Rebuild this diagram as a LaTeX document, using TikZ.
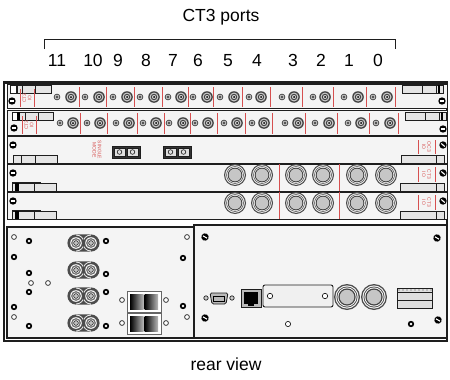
\documentclass[tikz,border=0pt]{standalone}
\usepackage{fontspec}
\setmainfont{Liberation Sans}
\definecolor{redl}{RGB}{214,80,80}
\definecolor{panel}{RGB}{244,244,244}
\definecolor{edge}{RGB}{30,30,30}
\tikzset{
  cardbox/.style={draw=edge, line width=1pt, fill=panel},
  redline/.style={draw=redl, line width=0.8pt},
  ejector/.style={draw=edge, line width=0.8pt, fill=black!10},
  redtext/.style={text=redl, font=\fontsize{5}{5.2}\selectfont, align=center, inner sep=0pt},
  bigtext/.style={font=\fontsize{17.5}{19}\selectfont, inner sep=0pt},
  openhole/.style={draw=edge, line width=0.7pt, fill=white},
  screw/.pic={\fill[black] (0,0) circle (3.7); \draw[white, line width=1.1pt] (-2.3,0) -- (2.3,0);},
  ringhole/.pic={\fill[black] (0,0) circle (3.2); \fill[white] (0,0) circle (1.3);},
  smallport/.pic={\fill[black!75] (0,0) circle (3.3); \fill[gray!55] (0,0) circle (2.4); \fill[black!80] (0,0) circle (1.2);},
  bigport/.pic={\fill[black!75] (0,0) circle (5.8); \fill[gray!45] (0,0) circle (4.5); \fill[black!75] (0,0) circle (3.2); \fill[gray!45] (0,0) circle (2.1); \fill[black] (0,0) circle (1);},
  bnc/.pic={\fill[black!70] (0,0) circle (11); \fill[panel] (0,0) circle (9.8); \fill[black!70] (0,0) circle (8.8); \fill[panel] (0,0) circle (8.1); \fill[black!75] (0,0) circle (7.3); \fill[gray!45] (0,0) circle (6.3);},
  bigbnc/.pic={\fill[black!70] (0,0) circle (13); \fill[panel] (0,0) circle (11.6); \fill[black!70] (0,0) circle (10.5); \fill[panel] (0,0) circle (9.6); \fill[black!75] (0,0) circle (8.6); \fill[gray!45] (0,0) circle (7.3);},
  psuport/.pic={\fill[black!70] (0,0) circle (7.5); \fill[white] (0,0) circle (5.8); \fill[black!55] (0,0) circle (4.9); \fill[white] (0,0) circle (3.4); \fill[gray!50] (0,0) circle (2.4); \draw[black, line width=0.5pt] (0,0) circle (2.4);},
}
\begin{document}
\begin{tikzpicture}[x=1pt,y=-1pt]
\useasboundingbox (0,0) rectangle (450,380);
\fill[white] (0,0) rectangle (450,380);

% title and bracket
\node[bigtext] (title) at (221,17) {CT3 ports};
\coordinate (bl) at (44,49);
\coordinate (br) at (395,49);
\draw[edge, line width=0.9pt] (bl) -- (44,39) -- (395,39) -- (br);
\foreach \n/\x in {11/57,10/93,9/118,8/146,7/173,6/198,5/228,4/257,3/293,2/321,1/349,0/378}
  \node[bigtext, anchor=base] (num\n) at (\x,66) {\n};

% chassis
\draw[cardbox, fill=white, line width=1.2pt] (4,82) rectangle (447,341);
\draw[edge, line width=2pt] (4,82.5) -- (447,82.5);

% card 1
\draw[cardbox] (7,84) rectangle (447,108);
\draw[ejector] (10,85) rectangle (51,93);
\fill[white] (10.5,85.5) rectangle (17,92.5);
\draw[edge, line width=1.1pt] (17,85) -- (17,93);
\draw[edge, line width=0.5pt] (22,85) -- (22,93) (35,85) -- (35,93);
\draw[redline] (20,89) -- (20,107) (34,89) -- (34,107);
\node[redtext, rotate=90] (c1t) at (27,98) {CT3\\IO};
\pic at (12,101) {screw};
\draw[ejector] (402,85) rectangle (443,93);
\draw[edge, line width=0.5pt] (422,85) -- (422,93) (436,85) -- (436,93);
\fill[black] (438,85) rectangle (440,93);
\pic at (442,101) {screw};
\foreach \s/\b/\r in {57/71/79,85/99/106,113/127/134,140/154/162,168/181/188,193/207/213,220/234/242,249/261/270,282/294/302,313/325/333,344/358/366,373/387/395}{
  \pic at (\s,97) {smallport};
  \pic at (\b,97) {bigport};
  \draw[redline] (\r,87) -- (\r,107);
}

% card 2
\draw[cardbox] (7,110) rectangle (447,135);
\draw[ejector] (12,112) rectangle (53,120);
\fill[white] (12.5,112.5) rectangle (17,119.5);
\fill[black] (17,112) rectangle (19.5,120);
\draw[edge, line width=0.5pt] (25,112) -- (25,120) (38,112) -- (38,120);
\draw[redline] (22,116) -- (22,134) (36,116) -- (36,134);
\node[redtext, rotate=90] (c2t) at (29,125) {CT3\\IO};
\pic at (14,128) {screw};
\draw[ejector] (405,112) rectangle (446,120);
\draw[edge, line width=0.5pt] (425,112) -- (425,120) (439,112) -- (439,120);
\fill[black] (441,112) rectangle (443,120);
\pic at (443,129) {screw};
\foreach \s/\b/\r in {60/73/80,87/100/107,116/129/137,143/156/164,169/183/190,195/208/217,224/237/245,252/264/272,285/298/305,315/329/337,348/361/369,376/390/398}{
  \pic at (\s,123) {smallport};
  \pic at (\b,123) {bigport};
  \draw[redline] (\r,113) -- (\r,134);
}

% card 3 (OC3)
\draw[cardbox] (7,136) rectangle (447,163);
\pic at (13,145) {screw};
\draw[ejector] (13,155) rectangle (57,163);
\draw[edge, line width=0.5pt] (21,155) -- (21,163) (35,155) -- (35,163);
\node[redtext, rotate=-90] (sm) at (97,150) {SINGLE\\MODE};
\foreach \x/\nm in {112/fa,163/fb}{
  \draw[edge, fill=black!80, line width=0.6pt] (\x,146) rectangle ++(28,12);
  \draw[edge, fill=gray!25, line width=0.5pt] (\x+2,148) rectangle ++(11,8);
  \draw[edge, fill=gray!25, line width=0.5pt] (\x+15,148) rectangle ++(11,8);
  \draw[edge, line width=0.6pt] (\x+7.5,152) circle (2.3) (\x+20.5,152) circle (2.3);
}
\draw[redline] (418,140) -- (418,154) (435,140) -- (435,154);
\node[redtext, rotate=-90] (oc3) at (426.5,147) {OC3\\IO};
\pic[rotate=-40] at (443,145) {screw};
\draw[ejector] (401,155) rectangle (444,163);
\draw[edge, line width=0.5pt] (436,155) -- (436,163);

% cards 4 and 5 (CT3 BNC)
\foreach \t/\c in {164/4,192/5}{
  \draw[cardbox] (7,\t) rectangle (447,\t+27);
  \pic at (13,\t+9) {screw};
  \draw[ejector] (12,\t+19) rectangle (56,\t+27);
  \fill[black] (15,\t+19) rectangle (19,\t+27);
  \draw[edge, line width=0.5pt] (34,\t+19) -- (34,\t+27);
  \draw[edge, line width=0.4pt] (12,\t+18) -- (41,\t+18);
  \foreach \x in {235,262,296,323,357,386} \pic at (\x,\t+11) {bnc};
  \draw[redline] (279,\t) -- (279,\t+27) (339,\t) -- (339,\t+27);
  \draw[redline] (418,\t+3) -- (418,\t+18) (435,\t+3) -- (435,\t+18);
  \node[redtext, rotate=-90] (ct\c) at (426.5,\t+10.5) {CT3\\IO};
  \pic[rotate=-40] at (443,\t+9) {screw};
  \draw[ejector] (400,\t+19) rectangle (444,\t+27);
  \draw[edge, line width=0.5pt] (436,\t+19) -- (436,\t+27);
}

% PSU panel
\draw[cardbox, line width=1.1pt] (7,227) rectangle (194,338);
\foreach \x/\y in {14/237,187/237,14/317,187/317,31/283,48/283,122/300,166/300,122/323,166/323}
  \draw[openhole] (\x,\y) circle (2.4);
\foreach \x/\y in {29/241,14/257,29/273,29/292,14/307,29/326,183/258,183/306,106/241,106/274,106/292,106/326}
  \pic at (\x,\y) {ringhole};
\foreach \y in {243,270,296,323}{
  \fill[black!70] (76,\y) circle (8.6) (91,\y) circle (8.6) (76,\y-8.6) rectangle (91,\y+8.6);
  \pic at (76,\y) {psuport};
  \pic at (91,\y) {psuport};
}
\foreach \y in {291,313}{
  \draw[draw=black!60, fill=white, line width=0.8pt] (127,\y) rectangle (161,\y+21);
  \shade[left color=black, right color=gray!55] (130,\y+3) rectangle (143.5,\y+18);
  \shade[left color=black, right color=gray!55] (144.5,\y+3) rectangle (158,\y+18);
}

% management panel
\draw[cardbox, line width=1.1pt] (194,225) rectangle (447,338);
\pic[rotate=-30] at (205,237) {screw};
\pic[rotate=-30] at (437,238) {screw};
\pic[rotate=-30] at (205,318) {screw};
\pic[rotate=-30] at (438,320) {screw};
\draw[openhole] (288,324) circle (2.6);
\pic at (411,324) {ringhole};
% DB9
\draw[edge, fill=gray!40, line width=0.7pt] (206,298) circle (2.2) (232,298) circle (2.2);
\draw[edge, fill=gray!55, line width=0.8pt, rounded corners=1.5pt] (210,293) -- (228,293) -- (226,304) -- (212,304) -- cycle;
\fill[black] (213,295.5) rectangle (225,301.5);
\fill[gray!55] (214,296.5) rectangle (224,300.5);
% RJ45
\draw[edge, fill=gray!55, line width=0.7pt] (241,289) rectangle (261,307);
\fill[black] (244,292) rectangle (258,304);
\fill[black] (248,304) rectangle (254,306);
% blank plate
\draw[edge, fill=gray!12, line width=0.9pt, rounded corners=2pt] (263,285) rectangle (333,307);
\draw[openhole] (270,296) circle (2.7) (325,296) circle (2.7);
% two big connectors
\pic at (347,297) {bigbnc};
\pic at (374,297) {bigbnc};
% terminal block
\draw[edge, fill=gray!25, line width=0.8pt] (397,288) rectangle (432,308);
\draw[edge, line width=0.5pt] (397,292) -- (432,292) (397,300) -- (432,300);
\foreach \x in {399,403,...,431} \fill[black!70] (\x,290) circle (0.7);

% bottom label
\node[bigtext] (rear) at (226,364) {rear view};
\end{tikzpicture}
\end{document}
